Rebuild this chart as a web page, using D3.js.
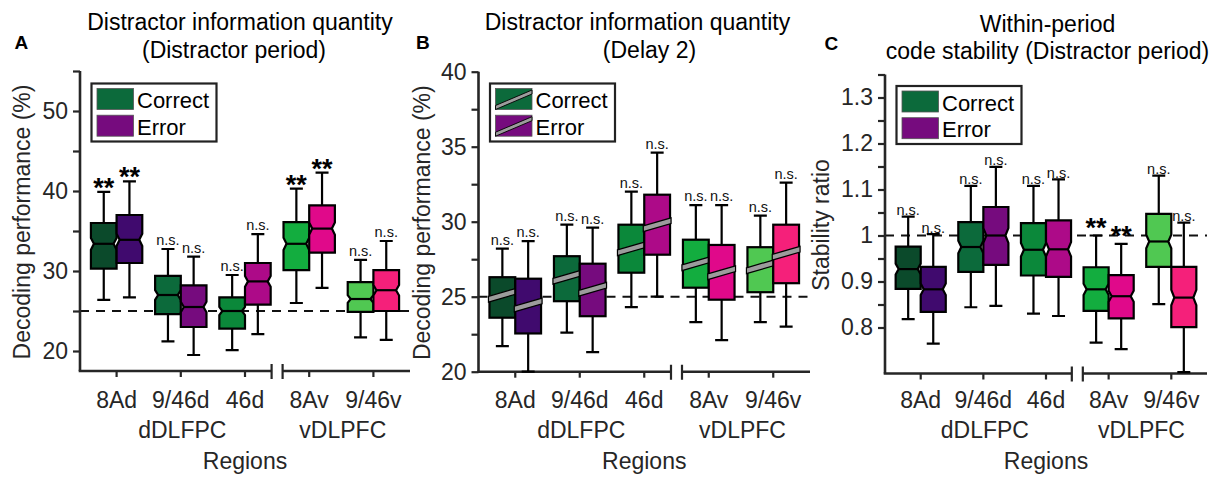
<!DOCTYPE html>
<html>
<head>
<meta charset="utf-8">
<script src="https://cdn.jsdelivr.net/npm/d3@7"></script>
<style>
  html, body { margin: 0; padding: 0; background: #fff; }
  svg { display: block; font-family: "Liberation Sans", Arial, Helvetica, sans-serif; }
</style>
</head>
<body>
<svg id="fig" width="1218" height="479"></svg>
<script>
// ---- data ----
const regions = ["8Ad", "9/46d", "46d", "8Av", "9/46v"];
const groupNames = ["dDLFPC", "vDLPFC"];
const groupCenters = [2, 4.5];
const legendLabels = ["Correct", "Error"];

const correctColors = ["#0b4a2b", "#0c6a3b", "#0b883a", "#13ad3f", "#50c852"];
const errorColors   = ["#400a6e", "#760b7e", "#ad0a88", "#e0098a", "#f5207a"];
const legendColors  = ["#0c6a3b", "#760b7e"];

// box statistics: [lower whisker, q1, median, q3, upper whisker]
const infoDistCorrect = [[26.4, 30.3, 33.4, 36.0, 39.9], [21.2, 24.6, 27.0, 29.4, 32.75], [20.1, 22.8, 25.0, 26.7, 29.5], [26.0, 30.1, 33.4, 36.1, 40.3], [21.7, 24.9, 26.5, 28.6, 31.4]];
const infoDistError   = [[26.7, 31.0, 33.9, 37.0, 41.2], [19.5, 23.0, 25.5, 28.2, 31.8], [22.1, 25.8, 28.7, 31.0, 34.6], [27.9, 32.3, 35.3, 38.2, 42.3], [21.4, 25.0, 27.6, 30.1, 33.75]];
const infoDistSigCorrect = ["**", "n.s.", "n.s.", "**", "n.s."];
const infoDistSigError   = ["**", "n.s.", "n.s.", "**", "n.s."];

const infoDelayCorrect = [[21.7, 23.6, 25.1, 26.3, 28.2], [22.6, 24.7, 26.3, 27.7, 29.8], [24.3, 26.6, 28.2, 29.8, 32.0], [23.3, 25.6, 27.2, 28.8, 31.1], [23.3, 25.3, 27.0, 28.3, 30.4]];
const infoDelayError   = [[20.0, 22.55, 24.45, 26.2, 28.7], [21.3, 23.7, 25.5, 27.2, 29.6], [25.0, 27.8, 29.8, 31.8, 34.6], [22.1, 24.8, 26.6, 28.45, 31.1], [23.0, 25.9, 27.9, 29.8, 32.6]];
const infoDelaySigCorrect = ["n.s.", "n.s.", "n.s.", "n.s.", "n.s."];
const infoDelaySigError   = ["n.s.", "n.s.", "n.s.", "n.s.", "n.s."];

const stabCorrect = [[0.818, 0.884, 0.927, 0.976, 1.041], [0.844, 0.921, 0.975, 1.029, 1.108], [0.830, 0.913, 0.969, 1.027, 1.108], [0.767, 0.836, 0.883, 0.931, 1.000], [0.851, 0.932, 0.987, 1.047, 1.130]];
const stabError   = [[0.765, 0.834, 0.883, 0.932, 1.003], [0.847, 0.936, 1.000, 1.062, 1.149], [0.825, 0.910, 0.970, 1.033, 1.122], [0.753, 0.820, 0.868, 0.914, 0.982], [0.703, 0.801, 0.865, 0.932, 1.028]];
const stabSigCorrect = ["n.s.", "n.s.", "n.s.", "**", "n.s."];
const stabSigError   = ["n.s.", "n.s.", "n.s.", "**", "n.s."];

// tick values
const ticksA = [20, 25, 30, 35, 40, 45, 50, 55];
const labelsA = [20, 30, 40, 50];
const ticksB = [20, 22.5, 25, 27.5, 30, 32.5, 35, 37.5, 40];
const labelsB = [20, 25, 30, 35, 40];
const ticksC = [0.8, 0.85, 0.9, 0.95, 1.0, 1.05, 1.1, 1.15, 1.2, 1.25, 1.3, 1.35];
const labelsC = [0.8, 0.9, 1.0, 1.1, 1.2, 1.3];

const chanceA = 25, chanceB = 25, chanceC = 1.0;
const nSamples = 150; // for notch half-height 1.57*IQR/sqrt(n)

// ---- drawing ----
const svg = d3.select("#fig");
const AXC = "#262626";

function panel(opt) {
  const g = svg.append("g");
  const x = d3.scaleLinear().domain([0.43, 5.57]).range([opt.left, opt.right]);
  const y = d3.scaleLinear().domain(opt.yDomain).range([opt.bottom, opt.top]);
  const u = x(1) - x(0);
  const bw = 0.4 * u;

  // chance line
  g.append("line")
    .attr("x1", opt.left).attr("x2", opt.right)
    .attr("y1", y(opt.chance)).attr("y2", y(opt.chance))
    .attr("stroke", "#111").attr("stroke-width", 2)
    .attr("stroke-dasharray", "9,7");

  // y axis
  const ya = d3.axisLeft(y).tickValues(opt.ticks).tickSize(7).tickSizeOuter(0)
    .tickFormat(d => opt.labels.some(v => Math.abs(v - d) < 1e-9) ? opt.fmt(d) : "");
  const yg = g.append("g").attr("transform", `translate(${opt.left},0)`).call(ya);
  yg.select(".domain").attr("stroke", AXC).attr("stroke-width", 2.6)
    .attr("d", `M0,${opt.bottom}V${opt.top}`);
  yg.selectAll(".tick line").attr("stroke", AXC).attr("stroke-width", 2.2);
  yg.selectAll(".tick text").attr("fill", AXC).attr("font-size", 23)
    .attr("font-family", "Liberation Sans, Arial, sans-serif").attr("x", -opt.labelGap);

  // x axis with break
  const xb = x(3.5);
  const xg = g.append("g").attr("stroke", AXC).attr("stroke-width", 2.6).attr("fill", "none");
  xg.append("path").attr("d", `M${opt.left - 1.3},${opt.bottom}H${xb - 5.5}M${xb + 5.5},${opt.bottom}H${opt.right}`);
  xg.append("path").attr("stroke-width", 2.2)
    .attr("d", `M${xb - 5.5},${opt.bottom - 7}V${opt.bottom + 8}M${xb + 5.5},${opt.bottom - 7}V${opt.bottom + 8}`);
  regions.forEach((r, i) => {
    xg.append("line").attr("stroke-width", 2.2)
      .attr("x1", x(i + 1)).attr("x2", x(i + 1))
      .attr("y1", opt.bottom).attr("y2", opt.bottom + 6);
  });
  const tg = g.append("g").attr("fill", AXC).attr("font-size", 23).attr("text-anchor", "middle");
  regions.forEach((r, i) => {
    tg.append("text").attr("x", x(i + 1)).attr("y", 408).text(r);
  });
  groupNames.forEach((nm, i) => {
    tg.append("text").attr("x", x(groupCenters[i]) + 1.5).attr("y", 438).text(nm);
  });
  tg.append("text").attr("x", (opt.left + opt.right) / 2).attr("y", 469).text("Regions");

  // y label
  g.append("text").attr("fill", AXC).attr("font-size", 23).attr("text-anchor", "middle")
    .attr("transform", `translate(${opt.ylabX},${(opt.top + opt.bottom) / 2 + 1}) rotate(-90)`)
    .text(opt.ylabel);

  // boxes
  const sets = [
    { data: opt.correct, colors: correctColors, sig: opt.sigC, off: -bw / 2 },
    { data: opt.error,   colors: errorColors,   sig: opt.sigE, off: bw / 2 }
  ];
  sets.forEach(s => {
    s.data.forEach((d, i) => {
      const [wl, q1, md, q3, wh] = d;
      const cx = x(i + 1) + s.off;
      const x0 = cx - bw / 2, x1 = cx + bw / 2;
      const bg = g.append("g");
      // whiskers
      bg.append("path").attr("fill", "none").attr("stroke", "#000").attr("stroke-width", 2.2)
        .attr("d", `M${cx},${y(q3)}V${y(wh)}M${cx},${y(q1)}V${y(wl)}` +
          `M${cx - 6.5},${y(wh)}H${cx + 6.5}M${cx - 6.5},${y(wl)}H${cx + 6.5}`);
      if (opt.band) {
        bg.append("rect").attr("x", x0).attr("y", y(q3)).attr("width", bw).attr("height", y(q1) - y(q3))
          .attr("fill", s.colors[i]).attr("stroke", "#000").attr("stroke-width", 2.2);
        const ym = y(md), sl = 4, t = 2.9;
        bg.append("path")
          .attr("d", `M${x0 - 1},${ym + sl - t}L${x1 + 1},${ym - sl - t}L${x1 + 1},${ym - sl + t}L${x0 - 1},${ym + sl + t}Z`)
          .attr("fill", "#9c9c9c").attr("stroke", "#000").attr("stroke-width", 1.2);
      } else {
        const nh = 1.57 * (q3 - q1) / Math.sqrt(nSamples);
        const yt = y(md + nh), yb = y(md - nh), ym = y(md), ins = 3;
        bg.append("path")
          .attr("d", `M${x0},${y(q3)}H${x1}V${yt}L${x1 - ins},${ym}L${x1},${yb}V${y(q1)}H${x0}V${yb}L${x0 + ins},${ym}L${x0},${yt}Z`)
          .attr("fill", s.colors[i]).attr("stroke", "#000").attr("stroke-width", 2.2).attr("stroke-linejoin", "miter");
        bg.append("line").attr("x1", x0 + ins).attr("x2", x1 - ins).attr("y1", ym).attr("y2", ym)
          .attr("stroke", "#000").attr("stroke-width", 2.2);
      }
      // significance
      const lab = s.sig[i];
      if (lab === "**") {
        g.append("text").attr("x", cx).attr("y", y(wh) + opt.starDy)
          .attr("text-anchor", "middle").attr("font-size", 27).attr("font-weight", "bold")
          .attr("fill", "#000").text(lab);
      } else {
        g.append("text").attr("x", cx).attr("y", y(wh) - opt.nsDy)
          .attr("text-anchor", "middle").attr("font-size", 14.5)
          .attr("fill", "#111").text(lab);
      }
    });
  });

  // legend
  const lx = opt.left + 11.5, ly = opt.legTop;
  const lg = g.append("g");
  lg.append("rect").attr("x", lx).attr("y", ly).attr("width", 125).attr("height", 58)
    .attr("fill", "#fff").attr("stroke", "#222").attr("stroke-width", 2.2);
  legendLabels.forEach((lbl, k) => {
    const sy = ly + 5 + k * 26.7;
    lg.append("rect").attr("x", lx + 5.5).attr("y", sy).attr("width", 36.5).attr("height", 21)
      .attr("fill", legendColors[k]).attr("stroke", "#555").attr("stroke-width", 0.8);
    if (opt.band) {
      lg.append("path")
        .attr("d", `M${lx + 5.5},${sy + 17}L${lx + 42},${sy + 1.5}L${lx + 42},${sy + 5.5}L${lx + 5.5},${sy + 21}Z`)
        .attr("fill", "#9c9c9c").attr("stroke", "#000").attr("stroke-width", 0.9);
    }
    lg.append("text").attr("x", lx + 45.5).attr("y", sy + 19.5)
      .attr("font-size", 22).attr("fill", "#000").text(lbl);
  });
}

const fmtInt = d => d3.format("d")(d);
const fmtRatio = d => Math.abs(d - 1) < 1e-9 ? "1" : d3.format(".1f")(d);

panel({ left: 80, right: 410, top: 71, bottom: 371, yDomain: [17.5, 55], ticks: ticksA, labels: labelsA,
  fmt: fmtInt, labelGap: 12, chance: chanceA, correct: infoDistCorrect, error: infoDistError,
  sigC: infoDistSigCorrect, sigE: infoDistSigError, band: false, starDy: 5, nsDy: 4,
  ylabel: "Decoding performance (%)", ylabX: 30, legTop: 83.5 });

panel({ left: 478.5, right: 810, top: 71.7, bottom: 371.7, yDomain: [20, 40], ticks: ticksB, labels: labelsB,
  fmt: fmtInt, labelGap: 12, chance: chanceB, correct: infoDelayCorrect, error: infoDelayError,
  sigC: infoDelaySigCorrect, sigE: infoDelaySigError, band: true, starDy: 5, nsDy: 4,
  ylabel: "Decoding performance (%)", ylabX: 430, legTop: 83.5 });

panel({ left: 885, right: 1207, top: 74.5, bottom: 373.5, yDomain: [0.7, 1.35], ticks: ticksC, labels: labelsC,
  fmt: fmtRatio, labelGap: 12, chance: chanceC, correct: stabCorrect, error: stabError,
  sigC: stabSigCorrect, sigE: stabSigError, band: false, starDy: 1, nsDy: 1.5,
  ylabel: "Stability ratio", ylabX: 829, legTop: 86 });

// titles and panel letters
const titles = [
  { t: "Distractor information quantity", x: 240, y: 30 },
  { t: "(Distractor period)", x: 234, y: 58 },
  { t: "Distractor information quantity", x: 637.5, y: 30 },
  { t: "(Delay 2)", x: 649.5, y: 58 },
  { t: "Within-period", x: 1047.5, y: 31.5 },
  { t: "code stability (Distractor period)", x: 1047.5, y: 58.5 }
];
svg.append("g").attr("font-size", 23).attr("text-anchor", "middle").attr("fill", "#000")
  .selectAll("text").data(titles).join("text")
  .attr("x", d => d.x).attr("y", d => d.y).text(d => d.t);

const letters = [{ t: "A", x: 14.5, y: 48.5 }, { t: "B", x: 416, y: 48.5 }, { t: "C", x: 824.5, y: 50 }];
svg.append("g").attr("font-size", 19).attr("font-weight", "bold").attr("fill", "#000")
  .selectAll("text").data(letters).join("text")
  .attr("x", d => d.x).attr("y", d => d.y).text(d => d.t);
</script>
</body>
</html>
